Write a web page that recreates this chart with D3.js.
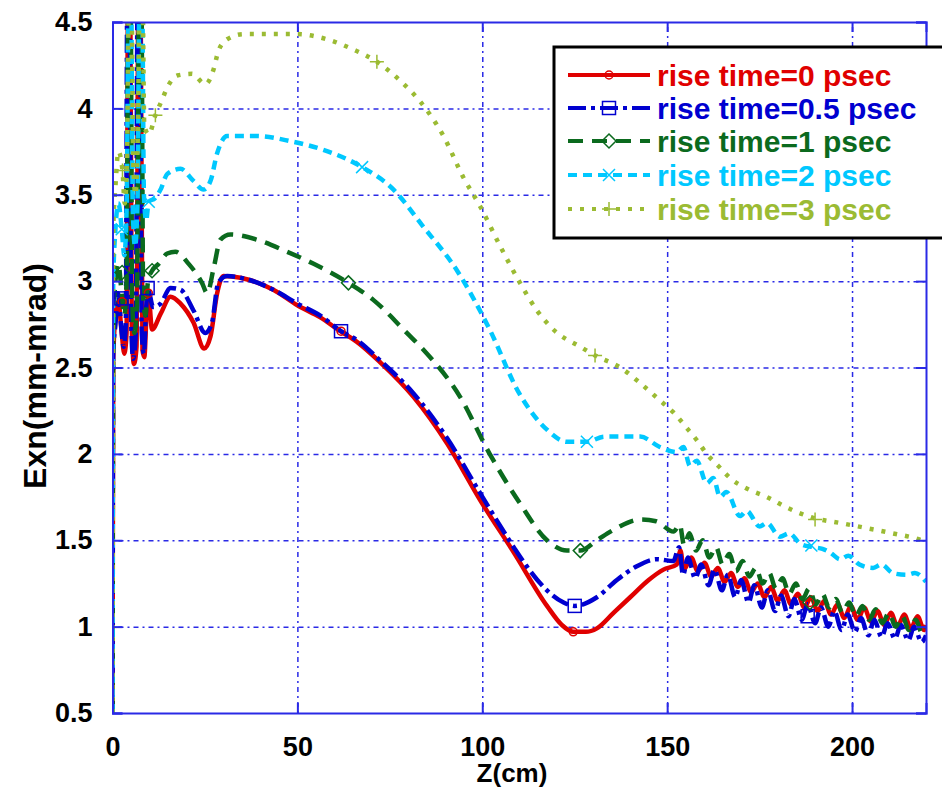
<!DOCTYPE html>
<html><head><meta charset="utf-8">
<script src="https://cdn.jsdelivr.net/npm/d3@7"></script>
<style>
html,body{margin:0;padding:0;background:#fff;overflow:hidden;}
svg{display:block;}
text{font-family:"Liberation Sans",Arial,sans-serif;font-weight:bold;}
</style></head>
<body>
<svg id="chart" width="942" height="792"></svg>
<script>
// ---------------- data ----------------
const xTicks = [0, 50, 100, 150, 200];
const yTicks = [0.5, 1, 1.5, 2, 2.5, 3, 3.5, 4, 4.5];
const seriesNames = ["rise time=0 psec", "rise time=0.5 psec", "rise time=1 psec", "rise time=2 psec", "rise time=3 psec"];

const riseTime0 = [[0,0.5],[0.2,2.55],[0.8,2.8],[1.6,2.88],[2.4,2.72],[3.2,2.58],[3.8,2.7],[4.2,4.7],[4.8,4.7],[5.2,2.75],[5.8,2.52],[6.5,2.62],[7.0,4.7],[7.6,4.7],[8.1,2.6],[8.6,2.56],[9.2,2.8],[9.7,2.93],[10.7,2.72],[13,2.81],[15.7,2.91],[18.4,2.87],[21.9,2.76],[24.8,2.61],[26.5,2.68],[28.3,2.93],[30,3.03],[34.6,3.02],[43.5,2.95],[50,2.86],[56.2,2.79],[61.6,2.71],[66,2.65],[72.4,2.53],[81.4,2.33],[90.5,2.06],[99.5,1.73],[108.5,1.43],[117.5,1.12],[121.5,1.01],[124.6,0.97],[128,0.97],[131,0.99],[135.5,1.08],[140,1.17],[145,1.27],[149,1.33],[152.6,1.36],[153.6,1.44],[154.5,1.33],[156.5,1.40],[158.3,1.32],[160.1,1.37],[161.9,1.29],[163.7,1.34],[165.5,1.26],[167.3,1.31],[169.1,1.23],[170.9,1.28],[172.7,1.20],[174.5,1.25],[176.3,1.17],[178.1,1.23],[179.9,1.15],[181.7,1.21],[183.5,1.13],[185.3,1.19],[187.1,1.11],[188.9,1.17],[190.7,1.09],[192.5,1.15],[194.3,1.07],[196.1,1.13],[197.9,1.05],[199.7,1.12],[201.5,1.04],[203.3,1.11],[205.1,1.03],[206.9,1.09],[208.7,1.01],[210.5,1.08],[212.3,1.00],[214.1,1.07],[215.9,0.99],[217.7,1.06],[219.5,0.98],[220,1.01]];

const riseTime05 = [[0,0.5],[0.2,2.6],[0.8,2.75],[1.5,2.93],[2.3,2.75],[3.0,2.62],[3.6,2.75],[4.0,4.7],[4.6,4.7],[5.0,2.8],[5.6,2.55],[6.3,2.7],[6.8,4.7],[7.4,4.7],[7.9,2.7],[8.5,2.58],[9.0,2.8],[9.5,2.96],[11,2.85],[13,2.87],[15.7,2.96],[18.4,2.95],[21.9,2.83],[25.1,2.70],[26.9,2.76],[28.6,2.99],[31,3.03],[34.6,3.02],[43.5,2.95],[50,2.87],[56.2,2.80],[61.8,2.71],[66,2.66],[72.4,2.54],[81.4,2.35],[90.5,2.09],[99.5,1.77],[108.5,1.46],[112,1.35],[117.5,1.21],[122,1.14],[125,1.12],[131,1.17],[136.4,1.27],[141.8,1.35],[147.2,1.39],[151.7,1.38],[153.2,1.46],[154.3,1.30],[155.6,1.40],[157.6,1.28],[159.2,1.36],[161.2,1.24],[162.8,1.33],[164.8,1.21],[166.4,1.30],[168.4,1.17],[170,1.27],[172,1.14],[173.6,1.24],[175.6,1.11],[177.2,1.21],[179.2,1.09],[180.8,1.18],[182.8,1.06],[184.4,1.16],[186.4,1.04],[188,1.13],[190,1.02],[191.6,1.11],[193.6,1.00],[195.2,1.09],[197.2,0.98],[198.8,1.07],[200.8,0.97],[202.4,1.05],[204.4,0.95],[206,1.04],[208,0.94],[209.6,1.02],[211.6,0.93],[213.2,1.01],[215.2,0.92],[216.8,1.0],[218.8,0.91],[220,0.95]];

const riseTime1 = [[0,0.5],[0.2,2.7],[0.8,3.0],[1.6,3.1],[2.4,2.95],[3.2,2.8],[3.8,3.0],[4.3,4.7],[4.9,4.7],[5.3,2.9],[5.9,2.7],[6.6,2.85],[7.2,4.7],[7.8,4.7],[8.3,2.9],[8.9,2.8],[9.6,3.0],[10.7,3.06],[12.5,3.1],[14.8,3.16],[17,3.17],[20.6,3.10],[24.2,2.99],[25.6,2.93],[27.4,3.08],[29.2,3.24],[31.9,3.27],[39,3.24],[47.2,3.17],[54.4,3.10],[63.8,2.99],[70.6,2.89],[79.6,2.70],[84.2,2.60],[94,2.33],[102,2.0],[110,1.72],[117.5,1.50],[122.9,1.44],[126.5,1.44],[131,1.50],[135.5,1.56],[142.7,1.62],[147,1.61],[151.7,1.55],[153.4,1.59],[154.6,1.47],[156.0,1.54],[157.8,1.44],[159.6,1.50],[161.4,1.40],[163.2,1.46],[165,1.36],[166.8,1.42],[168.6,1.32],[170.4,1.38],[172.2,1.29],[174,1.34],[175.8,1.25],[177.6,1.31],[179.4,1.22],[181.2,1.28],[183,1.19],[184.8,1.25],[186.6,1.16],[188.4,1.22],[190.2,1.13],[192,1.19],[193.8,1.11],[195.6,1.16],[197.4,1.08],[199.2,1.14],[201,1.06],[202.8,1.12],[204.6,1.04],[206.4,1.10],[208.2,1.02],[210,1.08],[211.8,1.00],[213.6,1.06],[215.4,0.98],[217.2,1.04],[219,0.96],[220,0.99]];

const riseTime2 = [[0,0.5],[0.2,3.0],[0.8,3.3],[1.6,3.45],[2.5,3.3],[3.2,3.15],[3.8,3.4],[4.4,4.7],[5.0,4.7],[5.5,3.4],[6.1,3.2],[6.8,3.5],[7.3,4.7],[8.0,4.7],[8.5,3.5],[9.1,3.35],[9.8,3.46],[11.5,3.48],[13,3.53],[14.8,3.62],[18.4,3.65],[21.9,3.58],[24.6,3.53],[26.5,3.58],[28.3,3.74],[31,3.84],[39,3.84],[48.1,3.81],[57,3.76],[67.5,3.66],[76,3.53],[83.5,3.33],[93.5,3.05],[102,2.72],[110,2.35],[117.5,2.14],[122.9,2.07],[128.3,2.07],[133,2.10],[137.3,2.10],[142.7,2.10],[148,2.04],[152.6,2.01],[154.4,2.04],[156.2,1.93],[158,1.96],[160.7,1.83],[162.5,1.86],[164.3,1.75],[166,1.78],[169.7,1.64],[171.5,1.67],[175,1.58],[177,1.60],[180.5,1.52],[183,1.54],[186,1.48],[189.5,1.46],[192,1.45],[194,1.43],[196.8,1.39],[199,1.41],[202,1.36],[205.7,1.34],[208,1.36],[211,1.31],[214.8,1.30],[217,1.31],[220,1.26]];

const riseTime3 = [[0,0.5],[0.2,3.3],[0.8,3.55],[1.6,3.75],[2.7,3.64],[3.3,3.45],[3.9,3.7],[4.5,4.7],[5.1,4.7],[5.6,3.7],[6.2,3.5],[6.9,3.9],[7.4,4.7],[8.1,4.7],[8.6,3.9],[9.8,3.85],[11.6,3.96],[13.4,4.05],[14.8,4.12],[17.5,4.19],[21.5,4.20],[25.1,4.14],[27.4,4.23],[28.6,4.33],[31,4.40],[35.5,4.43],[43.6,4.43],[49.9,4.43],[58,4.40],[65.2,4.34],[71.5,4.27],[77.8,4.16],[83.2,4.04],[89.5,3.84],[94.9,3.60],[99.5,3.43],[104.9,3.20],[110.2,2.99],[114.8,2.83],[119.2,2.72],[126.5,2.62],[130.5,2.57],[137.3,2.50],[142.7,2.41],[148,2.31],[151.7,2.24],[155.3,2.15],[158,2.08],[160.7,2.0],[164.3,1.92],[167,1.86],[171.5,1.80],[177,1.75],[182.3,1.69],[189.5,1.63],[196.8,1.60],[204,1.57],[211,1.54],[218.8,1.50],[220,1.49]];

// marker locations (z, Exn)
const markers0  = [[2.6,2.88],[9.7,2.93],[61.8,2.71],[124.6,0.97],[188.6,1.14]];
const markers05 = [[2.4,2.9],[9.5,2.96],[61.8,2.71],[125,1.12],[188,1.06]];
const markers1  = [[2.6,3.05],[10.7,3.06],[63.8,2.99],[126.5,1.44],[188.6,1.14]];
const markers2  = [[2.5,3.3],[9.8,3.46],[67.5,3.66],[128.3,2.07],[189,1.47]];
const markers3  = [[2.7,3.64],[11.6,3.96],[71.5,4.27],[130.5,2.57],[190,1.62]];

// ---------------- chart ----------------
const svg = d3.select("#chart");
const L = 112.5, R = 926, T = 22, B = 713;
const x = d3.scaleLinear().domain([0, 220]).range([L, R]);
const y = d3.scaleLinear().domain([0.5, 4.5]).range([B, T]);
const axisColor = "#2a2ae6";

svg.append("defs").append("clipPath").attr("id", "clip")
  .append("rect").attr("x", L).attr("y", T).attr("width", R - L).attr("height", B - T);

// grid
const grid = svg.append("g");
grid.append("g").attr("transform", `translate(0,${B})`)
  .call(d3.axisBottom(x).tickValues(xTicks.slice(1)).tickSize(-(B - T)).tickFormat(""))
  .call(g => g.select(".domain").remove())
  .selectAll("line").attr("stroke", axisColor).attr("stroke-width", 1.5).attr("stroke-dasharray", "2,4,5,4");
grid.append("g").attr("transform", `translate(${L},0)`)
  .call(d3.axisLeft(y).tickValues(yTicks.slice(1, -1)).tickSize(-(R - L)).tickFormat(""))
  .call(g => g.select(".domain").remove())
  .selectAll("line").attr("stroke", axisColor).attr("stroke-width", 1.5).attr("stroke-dasharray", "2,4,5,4");

// series
const series = [
  {data: riseTime0, mk: markers0, color: "#e00000", dash: null, sym: "circle"},
  {data: riseTime05, mk: markers05, color: "#0000d0", dash: "18,5,4,5", sym: "square"},
  {data: riseTime1, mk: markers1, color: "#0b6a1e", dash: "15,9", sym: "diamond"},
  {data: riseTime2, mk: markers2, color: "#00c8ff", dash: "9,6", sym: "x"},
  {data: riseTime3, mk: markers3, color: "#9bbb33", dash: "4,8", sym: "plus"}
];
const line = d3.line().x(d => x(d[0])).y(d => y(d[1])).curve(d3.curveMonotoneX);
const plot = svg.append("g").attr("clip-path", "url(#clip)");

function drawMarker(g, sym, cx, cy, color) {
  if (sym === "circle") g.append("circle").attr("cx", cx).attr("cy", cy).attr("r", 4).attr("fill", "none").attr("stroke", color).attr("stroke-width", 1.5);
  else if (sym === "square") g.append("rect").attr("x", cx - 6.5).attr("y", cy - 6.5).attr("width", 13).attr("height", 13).attr("fill", "none").attr("stroke", color).attr("stroke-width", 1.5);
  else if (sym === "diamond") g.append("path").attr("d", `M${cx},${cy-7}L${cx+7},${cy}L${cx},${cy+7}L${cx-7},${cy}Z`).attr("fill", "none").attr("stroke", color).attr("stroke-width", 1.5);
  else if (sym === "x") g.append("path").attr("d", `M${cx-6},${cy-6}L${cx+6},${cy+6}M${cx-6},${cy+6}L${cx+6},${cy-6}`).attr("stroke", color).attr("stroke-width", 1.5);
  else if (sym === "plus") g.append("path").attr("d", `M${cx-7},${cy}L${cx+7},${cy}M${cx},${cy-7}L${cx},${cy+7}`).attr("stroke", color).attr("stroke-width", 1.5);
}

series.forEach(s => {
  plot.append("path").datum(s.data).attr("d", line)
    .attr("fill", "none").attr("stroke", s.color).attr("stroke-width", 4.5)
    .attr("stroke-linejoin", "round")
    .attr("stroke-dasharray", s.dash);
});
const mg = svg.append("g");
series.forEach(s => s.mk.forEach(m => drawMarker(mg, s.sym, x(m[0]), y(m[1]), s.color)));

// axes (box with inward ticks)
const ax = svg.append("g");
ax.append("g").attr("transform", `translate(0,${B})`)
  .call(d3.axisBottom(x).tickValues(xTicks).tickSize(-10).tickPadding(24).tickFormat(d3.format("d")));
ax.append("g").attr("transform", `translate(0,${T})`)
  .call(d3.axisTop(x).tickValues(xTicks).tickSize(-10).tickFormat(""));
ax.append("g").attr("transform", `translate(${L},0)`)
  .call(d3.axisLeft(y).tickValues(yTicks).tickSize(-10).tickPadding(20).tickFormat(d => String(d)));
ax.append("g").attr("transform", `translate(${R},0)`)
  .call(d3.axisRight(y).tickValues(yTicks).tickSize(-10).tickFormat(""));
ax.selectAll(".domain").attr("stroke", axisColor).attr("stroke-width", 2);
ax.selectAll(".tick line").attr("stroke", axisColor).attr("stroke-width", 2);
ax.selectAll(".tick text").attr("fill", "#000").style("font-size", "27px").style("font-family", "'Liberation Sans',Arial,sans-serif").style("font-weight", "bold");

// axis labels
svg.append("text").attr("x", 512).attr("y", 782).attr("text-anchor", "middle")
  .style("font-size", "26px").text("Z(cm)");
svg.append("text").attr("transform", "translate(46,376) rotate(-90)").attr("text-anchor", "middle")
  .style("font-size", "32px").text("Exn(mm-mrad)");

// legend
const lg = svg.append("g");
lg.append("rect").attr("x", 554).attr("y", 47).attr("width", 400).attr("height", 191)
  .attr("fill", "#fff").attr("stroke", "#000").attr("stroke-width", 3);
const rowY = [75, 108, 141, 175, 209];
series.forEach((s, i) => {
  const cy = rowY[i];
  lg.append("line").attr("x1", 568).attr("x2", 650).attr("y1", cy).attr("y2", cy)
    .attr("stroke", s.color).attr("stroke-width", 4).attr("stroke-dasharray", s.dash);
  drawMarker(lg, s.sym, 609, cy, s.color);
  lg.append("text").attr("x", 657).attr("y", cy + 11).attr("fill", s.color)
    .style("font-size", "30px").text(seriesNames[i]);
});
</script>
</body></html>
